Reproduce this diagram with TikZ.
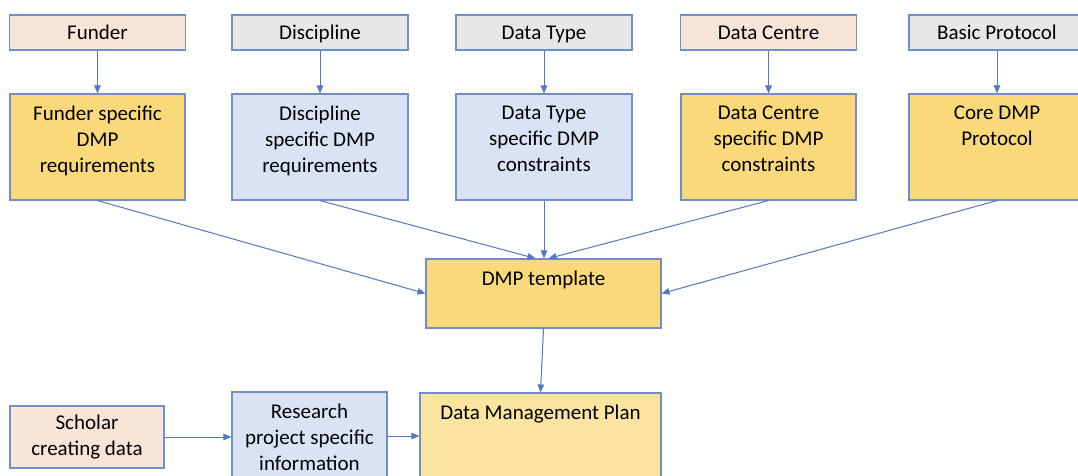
\documentclass[tikz,border=0pt]{standalone}
\usepackage{fontspec}
\setmainfont{Carlito}
\usetikzlibrary{arrows.meta}

\definecolor{peach}{HTML}{F8E5D7}
\definecolor{greybox}{HTML}{E7E7E7}
\definecolor{gold}{HTML}{F9D979}
\definecolor{paleblue}{HTML}{DAE3F3}
\definecolor{palegold}{HTML}{FBE4A0}
\definecolor{boxline}{HTML}{6F8FCB}
\definecolor{linkblue}{HTML}{5278C2}

% text pinned to the top of a fixed-size box
\newcommand{\toptext}[3]{\parbox[c][#2][t]{#1}{\centering\vspace*{12pt}#3}}

\begin{document}
\begin{tikzpicture}[x=1pt, y=-1pt,
    box/.style={draw=boxline, line width=1.1pt, inner sep=0pt, align=center,
      font=\fontsize{21}{26}\selectfont},
    inbox/.style={box, minimum width=176pt, minimum height=35pt,
      text height=14pt, text depth=0pt},
    link/.style={draw=linkblue, line width=1pt, -{Triangle[length=8pt,width=6.5pt]}}]
    % Page frame
    \path[use as bounding box, fill=white] (0,0) rectangle (1078,475);
    \clip (0,0) rectangle (1078,475);
    % Input boxes along the top
    \foreach \nm/\x/\col/\txt in {fund/97.5/peach/Funder, disc/320/greybox/Discipline,
        type/544/greybox/Data Type, centre/768.5/peach/Data Centre,
        core/997/greybox/Basic Protocol}
        \node[inbox, fill=\col] (\nm) at (\x,32.5) {\txt};
    % Specific DMP parts
    \node[box, fill=gold] (fund-dmp) at (97.5,147)
        {\toptext{175pt}{106pt}{Funder specific\\DMP\\requirements}};
    \node[box, fill=paleblue] (disc-dmp) at (320,147)
        {\toptext{176pt}{106pt}{Discipline\\specific DMP\\requirements}};
    \node[box, fill=paleblue] (type-dmp) at (544,147)
        {\toptext{176pt}{106pt}{Data Type\\specific DMP\\constraints}};
    \node[box, fill=gold] (centre-dmp) at (768.5,147)
        {\toptext{175pt}{106pt}{Data Centre\\specific DMP\\constraints}};
    \node[box, fill=gold] (core-dmp) at (997,147)
        {\toptext{176pt}{106pt}{Core DMP\\Protocol}};
    % Template and plan
    \node[box, fill=gold] (tmpl) at (543.5,293.5)
        {\toptext{235pt}{69pt}{DMP template}};
    \node[box, fill=palegold] (plan) at (540.5,458)
        {\toptext{241pt}{130pt}{Data Management Plan}};
    % Project side
    \node[box, fill=peach, minimum width=154pt, minimum height=62pt] (scholar) at (87,437)
        {Scholar\\creating data};
    \node[box, fill=paleblue] (research) at (309.5,436)
        {\toptext{155pt}{88pt}{Research\\project specific\\information}};
    % Arrows from inputs down to specific parts
    \foreach \nm in {fund,disc,type,centre,core}
        \draw[link] (\nm) -- (\nm-dmp);
    % Arrows into the template
    \draw[link] (fund-dmp.south) -- (tmpl.west);
    \draw[link] (disc-dmp.south) -- ([xshift=-8pt]tmpl.north);
    \draw[link] (type-dmp.south) -- (type-dmp.south |- tmpl.north);
    \draw[link] (centre-dmp.south) -- ([xshift=5pt]tmpl.north);
    \draw[link] (core-dmp.south) -- (tmpl.east);
    % Arrows into the plan
    \draw[link] (tmpl.south) -- (plan.north);
    \draw[link] (scholar.east) -- (scholar.east -| research.west);
    \draw[link] (research.east) -- (research.east -| plan.west);
\end{tikzpicture}
\end{document}
